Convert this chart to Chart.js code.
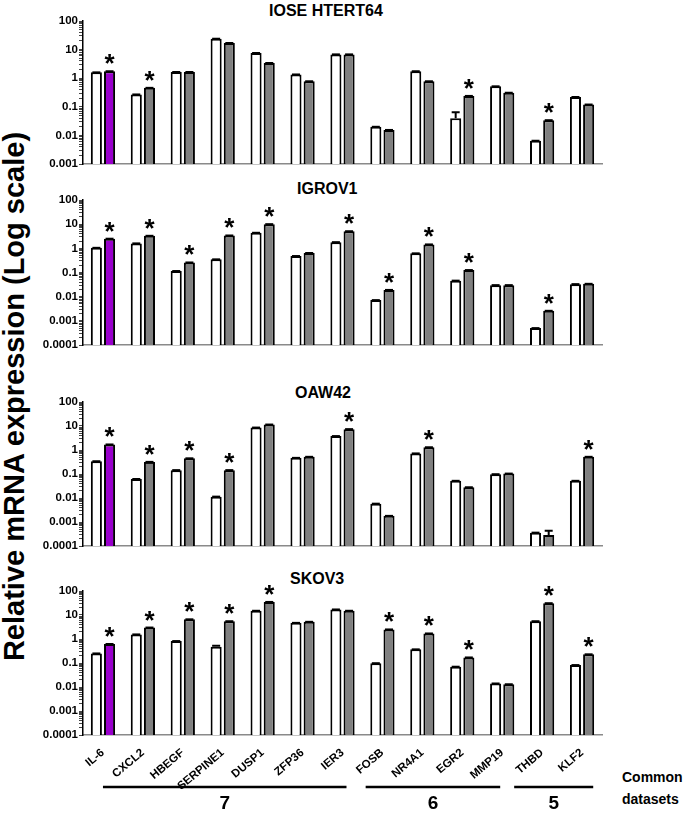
<!DOCTYPE html>
<html>
<head>
<meta charset="utf-8">
<script src="https://cdn.jsdelivr.net/npm/chart.js@4.4.1/dist/chart.umd.min.js"></script>
<style>
  body { margin: 0; background: #fff; font-family: "Liberation Sans", Arial, sans-serif; }
  #page { position: relative; width: 685px; height: 813px; overflow: hidden; }
  .panel { position: absolute; left: 0; }
  .title { position: absolute; font-weight: bold; font-size: 16px; line-height: 16px; white-space: nowrap; }
  #ytitle { position: absolute; left: -336px; top: 382px; width: 700px; text-align: center;
            font-weight: bold; font-size: 29px; line-height: 29px; transform: rotate(-90deg); white-space: nowrap; }
  .common { position: absolute; left: 622px; font-weight: bold; font-size: 14px; line-height: 15px; white-space: nowrap; }
</style>
</head>
<body>
<div id="page">
  <div id="ytitle">Relative mRNA expression (Log scale)</div>
  <div class="title" style="left:269px; top:3px">IOSE HTERT64</div>
  <div class="title" style="left:297px; top:181px">IGROV1</div>
  <div class="title" style="left:295px; top:385px">OAW42</div>
  <div class="title" style="left:290px; top:571px">SKOV3</div>
  <div class="common" style="top:770px">Common</div>
  <div class="common" style="top:792px">datasets</div>
  <canvas id="c1" class="panel" width="620" height="175" style="top:0px"></canvas>
  <canvas id="c2" class="panel" width="620" height="175" style="top:180px"></canvas>
  <canvas id="c3" class="panel" width="620" height="175" style="top:380px"></canvas>
  <canvas id="c4" class="panel" width="620" height="243" style="top:570px"></canvas>
</div>
<script>
const genes = ['IL-6', 'CXCL2', 'HBEGF', 'SERPINE1', 'DUSP1', 'ZFP36', 'IER3',
               'FOSB', 'NR4A1', 'EGR2', 'MMP19', 'THBD', 'KLF2'];

// IOSE HTERT64
const ioseCtrl  = [1.6, 0.27, 1.65, 24, 7.6, 1.35, 6.8, 0.020, 1.75, 0.040, 0.52, 0.0065, 0.22];
const ioseTreat = [1.75, 0.46, 1.65, 17, 3.4, 0.78, 6.8, 0.0155, 0.78, 0.24, 0.31, 0.034, 0.12];
const ioseCtrlErr  = [0, 0, 0, 0, 0, 0, 0, 0, 0, 0.025, 0, 0, 0];
const ioseTreatErr = [0, 0, 0, 0, 0, 0, 0, 0, 0, 0, 0, 0, 0];
const ioseStars = [0, 1, 9, 11];

// IGROV1
const igrovCtrl  = [1.05, 1.6, 0.115, 0.35, 4.4, 0.48, 1.8, 0.0072, 0.62, 0.046, 0.030, 0.0005, 0.033];
const igrovTreat = [2.5, 3.3, 0.26, 3.4, 10, 0.64, 5.1, 0.019, 1.45, 0.126, 0.030, 0.0026, 0.034];
const igrovCtrlErr  = [0, 0, 0, 0, 0, 0, 0, 0, 0, 0, 0, 0, 0];
const igrovTreatErr = [0, 0, 0, 0, 0, 0, 0, 0, 0, 0, 0, 0, 0];
const igrovStars = [0, 1, 2, 3, 4, 6, 7, 8, 9, 11];

// OAW42
const oawCtrl  = [0.34, 0.062, 0.145, 0.0114, 8.6, 0.47, 3.8, 0.0058, 0.72, 0.052, 0.098, 0.00036, 0.052];
const oawTreat = [1.7, 0.32, 0.45, 0.145, 11.5, 0.52, 7.4, 0.0018, 1.3, 0.028, 0.104, 0.00029, 0.52];
const oawCtrlErr  = [0, 0, 0, 0, 0, 0, 0, 0, 0, 0, 0, 0, 0];
const oawTreatErr = [0, 0, 0, 0, 0, 0, 0, 0, 0, 0, 0, 0.00014, 0];
const oawStars = [0, 1, 2, 3, 6, 8, 12];

// SKOV3
const skovCtrl  = [0.25, 1.55, 0.82, 0.47, 15, 4.7, 17, 0.098, 0.37, 0.07, 0.014, 5.5, 0.082];
const skovTreat = [0.62, 3.0, 6.6, 5.5, 35, 5.2, 15, 2.5, 1.7, 0.17, 0.013, 31, 0.23];
const skovCtrlErr  = [0, 0, 0, 0.05, 0, 0, 0, 0, 0, 0, 0, 0, 0];
const skovTreatErr = [0, 0, 0, 0, 0, 0, 0, 0, 0, 0, 0, 0, 0];
const skovStars = [0, 1, 2, 3, 4, 7, 8, 9, 11, 12];

// groups of common datasets (category index spans)
const groupLabels = ['7', '6', '5'];
const groupStart = [0.0, 6.58, 10.3];
const groupEnd   = [6.1, 9.95, 12.28];

const PURPLE = '#9900CC', GRAY = '#808080';

const marks = {
  id: 'marks',
  afterDatasetsDraw(chart) {
    const ctx = chart.ctx, y = chart.scales.y;
    ctx.save();
    chart.data.datasets.forEach((ds, di) => {
      const meta = chart.getDatasetMeta(di);
      meta.data.forEach((bar, i) => {
        const top = y.getPixelForValue(ds.data[i] + ds.err[i]);
        ctx.strokeStyle = '#000';
        ctx.lineWidth = 2;
        ctx.beginPath();
        ctx.moveTo(bar.x, bar.y);
        ctx.lineTo(bar.x, top);
        ctx.moveTo(bar.x - 4, top);
        ctx.lineTo(bar.x + 4, top);
        ctx.stroke();
        if (ds.stars && ds.stars.includes(i)) {
          ctx.fillStyle = '#000';
          ctx.font = 'bold 26px "Liberation Sans", Arial';
          ctx.textAlign = 'center';
          ctx.textBaseline = 'alphabetic';
          ctx.fillText('*', bar.x, top + 1);
        }
      });
    });
    ctx.restore();
  }
};

const groups = {
  id: 'groups',
  afterDraw(chart) {
    const ctx = chart.ctx, x = chart.scales.x;
    ctx.save();
    ctx.strokeStyle = '#000';
    ctx.fillStyle = '#000';
    ctx.lineWidth = 2.5;
    ctx.font = 'bold 19px "Liberation Sans", Arial';
    ctx.textAlign = 'center';
    ctx.textBaseline = 'middle';
    groupLabels.forEach((lab, g) => {
      const x0 = x.getPixelForValue(groupStart[g]);
      const x1 = x.getPixelForValue(groupEnd[g]);
      ctx.beginPath();
      ctx.moveTo(x0, 217);
      ctx.lineTo(x1, 217);
      ctx.stroke();
      ctx.fillText(lab, (x0 + x1) / 2, 234);
    });
    ctx.restore();
  }
};

function makePanel(id, ctrl, treat, ctrlErr, treatErr, stars, min, pad, showLabels) {
  const lo = Math.round(Math.log10(min)), hi = 2;
  new Chart(document.getElementById(id), {
    type: 'bar',
    data: {
      labels: genes,
      datasets: [
        { data: ctrl, err: ctrlErr, backgroundColor: '#fff', borderColor: '#000', borderWidth: 2,
          categoryPercentage: 0.66, barPercentage: 0.84 },
        { data: treat, err: treatErr, stars: stars,
          backgroundColor: ctx => ctx.dataIndex === 0 ? PURPLE : GRAY,
          borderColor: '#000', borderWidth: 2, categoryPercentage: 0.66, barPercentage: 0.84 }
      ]
    },
    options: {
      responsive: false,
      animation: false,
      devicePixelRatio: 1,
      layout: { padding: { top: pad[0], bottom: pad[1], left: 0, right: 18 } },
      plugins: { legend: { display: false }, tooltip: { enabled: false } },
      scales: {
        x: {
          grid: { display: false },
          border: { color: '#8a8a8a', width: 1.5 },
          ticks: {
            display: showLabels, autoSkip: false, minRotation: 40, maxRotation: 40, padding: 3,
            color: '#000', font: { family: '"Liberation Sans", Arial', weight: 'bold', size: 11.5 }
          },
          afterFit: s => { s.height = showLabels ? 78 : 0; }
        },
        y: {
          type: 'logarithmic',
          min: min, max: 100,
          border: { color: '#000', width: 1.5 },
          grid: { drawOnChartArea: false, drawTicks: true, tickLength: 4, color: '#444' },
          ticks: {
            autoSkip: false, padding: 1, color: '#000',
            font: { family: '"Liberation Sans", Arial', weight: 'bold', size: 11.5 },
            callback: v => {
              const l = Math.log10(v);
              return Math.abs(l - Math.round(l)) < 1e-6 ? String(v) : '';
            }
          },
          afterBuildTicks: s => {
            const t = [];
            for (let e = lo; e <= hi; e++) {
              for (let m = 1; m <= 9; m++) {
                const v = Number((m * Math.pow(10, e)).toPrecision(10));
                if (v <= 100) t.push({ value: v });
              }
            }
            s.ticks = t;
          },
          afterFit: s => { s.width = 83; }
        }
      }
    },
    plugins: showLabels ? [marks, groups] : [marks]
  });
}

makePanel('c1', ioseCtrl, ioseTreat, ioseCtrlErr, ioseTreatErr, ioseStars, 0.001, [21, 11], false);
makePanel('c2', igrovCtrl, igrovTreat, igrovCtrlErr, igrovTreatErr, igrovStars, 0.0001, [20, 10], false);
makePanel('c3', oawCtrl, oawTreat, oawCtrlErr, oawTreatErr, oawStars, 0.0001, [22, 9], false);
makePanel('c4', skovCtrl, skovTreat, skovCtrlErr, skovTreatErr, skovStars, 0.0001, [21, 0], true);
</script>
</body>
</html>
